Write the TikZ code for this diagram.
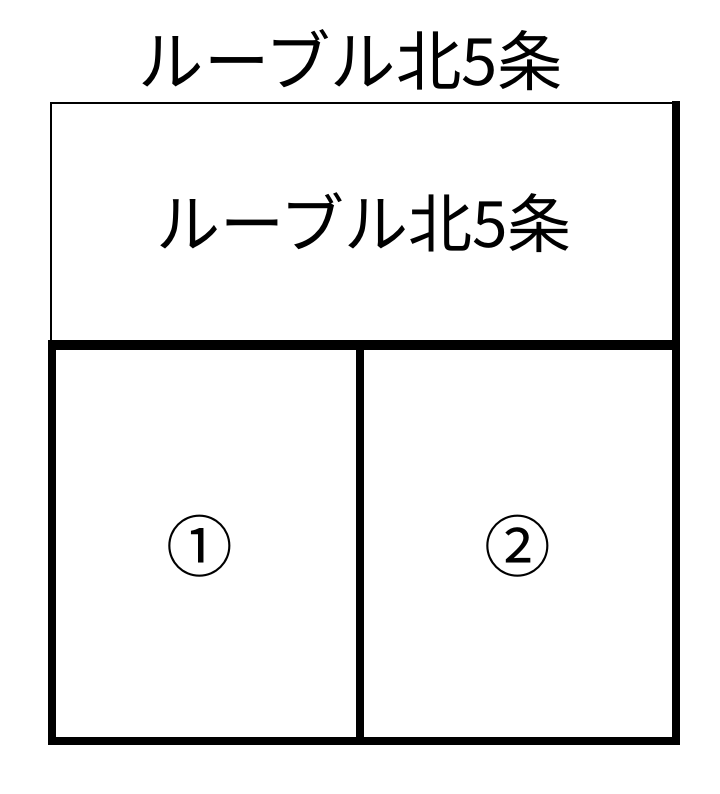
\documentclass[tikz,border=0pt]{standalone}
\usepackage{fontspec}
\newfontfamily\jpfont{Noto Sans CJK JP}
\usetikzlibrary{positioning}
\tikzset{thinwall/.style={line width=2.2pt},
  thickwall/.style={line width=6pt},
  bigwall/.style={line width=7.5pt}}

\begin{document}
\begin{tikzpicture}[x=0.75pt,y=-0.75pt]
\useasboundingbox (0,0) rectangle (720,794);
\node (title) at (351,60) {\jpfont\fontsize{49pt}{52pt}\selectfont ルーブル北5条};
\draw[thinwall] (50,103)--(678,103);
\draw[thinwall] (51,103)--(51,345);
\draw[thickwall] (676,101)--(676,745);
\draw[bigwall] (48,345)--(680,345);
\draw[thickwall] (52,345)--(52,745);
\draw[thickwall] (48,741)--(680,741);
\draw[thickwall] (360,345)--(360,741);
\node (name) at (364,223) {\jpfont\fontsize{48pt}{52pt}\selectfont ルーブル北5条};
\node (lot1) at (200,546) {\jpfont\fontsize{50pt}{54pt}\selectfont ①};
\node (lot2) at (518,546) {\jpfont\fontsize{50pt}{54pt}\selectfont ②};
\end{tikzpicture}
\end{document}
